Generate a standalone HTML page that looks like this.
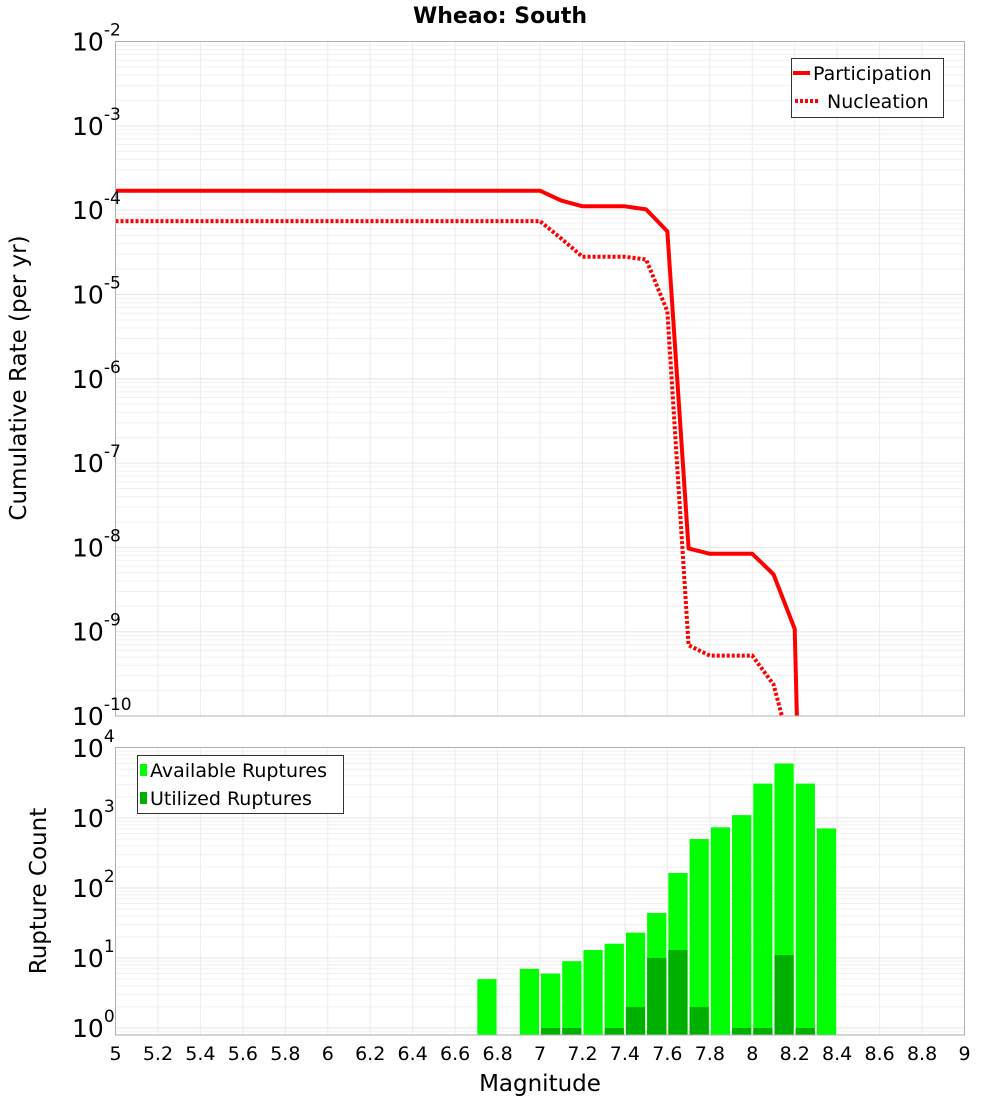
<!DOCTYPE html>
<html><head><meta charset="utf-8"><style>
html,body{margin:0;padding:0;background:#fff;width:1000px;height:1100px;overflow:hidden;}
svg{display:block;font-family:"DejaVu Sans","Liberation Sans",sans-serif;}
</style></head><body>
<svg id="chart" width="1000" height="1100" viewBox="0 0 1000 1100">
<text x="500" y="23" text-anchor="middle" font-size="22" font-weight="bold">Wheao: South</text>
<g id="top-grid"></g>
<g id="bot-grid"></g>
<g id="bars"></g>
<g id="lines"></g>
<rect x="115.5" y="41.5" width="849" height="674.5" fill="none" stroke="#b0b0b0"/>
<rect x="115.5" y="747.5" width="849" height="287.5" fill="none" stroke="#b0b0b0"/>
<g id="ticks"></g>
<text transform="translate(26,378) rotate(-90)" text-anchor="middle" font-size="23">Cumulative Rate (per yr)</text>
<text transform="translate(46,891) rotate(-90)" text-anchor="middle" font-size="23">Rupture Count</text>
<text x="540" y="1091" text-anchor="middle" font-size="23">Magnitude</text>
<g>
<rect x="791.5" y="58.5" width="152" height="59" fill="#fff" stroke="#333"/>
<line x1="793" y1="73" x2="810" y2="73" stroke="#ff0000" stroke-width="4"/>
<text x="813" y="80" font-size="19">Participation</text>
<line x1="795" y1="101" x2="820" y2="101" stroke="#ff0000" stroke-width="4" stroke-dasharray="3,2"/>
<text x="827" y="108" font-size="19">Nucleation</text>
</g>
<g>
<rect x="137.5" y="755.5" width="206" height="58" fill="#fff" stroke="#333"/>
<rect x="140" y="764" width="7" height="12" fill="#00ff00"/>
<text x="150" y="777" font-size="19">Available Ruptures</text>
<rect x="140" y="792" width="7" height="12" fill="#00b000"/>
<text x="150" y="805" font-size="19">Utilized Ruptures</text>
</g>
</svg>
<script>
const partMags = [5.0,5.1,5.2,5.3,5.4,5.5,5.6,5.7,5.8,5.9,6.0,6.1,6.2,6.3,6.4,6.5,6.6,6.7,6.8,6.9,7.0,7.1,7.2,7.3,7.4,7.5,7.6,7.7,7.8,7.9,8.0,8.1,8.2,8.3];
const partRates = [1.7e-4,1.7e-4,1.7e-4,1.7e-4,1.7e-4,1.7e-4,1.7e-4,1.7e-4,1.7e-4,1.7e-4,1.7e-4,1.7e-4,1.7e-4,1.7e-4,1.7e-4,1.7e-4,1.7e-4,1.7e-4,1.7e-4,1.7e-4,1.7e-4,1.3e-4,1.11e-4,1.11e-4,1.11e-4,1.02e-4,5.6e-5,9.7e-9,8.4e-9,8.4e-9,8.4e-9,4.8e-9,1.08e-9,1e-19];
const nuclMags = [5.0,5.1,5.2,5.3,5.4,5.5,5.6,5.7,5.8,5.9,6.0,6.1,6.2,6.3,6.4,6.5,6.6,6.7,6.8,6.9,7.0,7.1,7.2,7.3,7.4,7.5,7.6,7.7,7.8,7.9,8.0,8.1,8.2];
const nuclRates = [7.4e-5,7.4e-5,7.4e-5,7.4e-5,7.4e-5,7.4e-5,7.4e-5,7.4e-5,7.4e-5,7.4e-5,7.4e-5,7.4e-5,7.4e-5,7.4e-5,7.4e-5,7.4e-5,7.4e-5,7.4e-5,7.4e-5,7.4e-5,7.4e-5,4.6e-5,2.8e-5,2.8e-5,2.8e-5,2.6e-5,6.3e-6,6.9e-10,5.2e-10,5.2e-10,5.2e-10,2.37e-10,2.7e-11];
const barMags = [6.75,6.95,7.05,7.15,7.25,7.35,7.45,7.55,7.65,7.75,7.85,7.95,8.05,8.15,8.25,8.35];
const availCounts = [5,7,6,9,13,16,23,44,164,500,736,1100,3100,6000,3100,710];
const utilCounts = [0,0,1,1,0,1,2,10,13,2,0,1,1,11,1,0];
const xTicks = ["5","5.2","5.4","5.6","5.8","6","6.2","6.4","6.6","6.8","7","7.2","7.4","7.6","7.8","8","8.2","8.4","8.6","8.8","9"];
const topExps = [-2,-3,-4,-5,-6,-7,-8,-9,-10];
const botExps = [4,3,2,1,0];

const NS="http://www.w3.org/2000/svg";
const X0=115.5,X1=964.5,xMin=5,xMax=9;
const x=m=>X0+(m-xMin)/(xMax-xMin)*(X1-X0);
const TY0=41.5,TY1=716,tTop=-2,tBot=-10;
const yT=v=>TY0+(tTop-Math.log10(v))/(tTop-tBot)*(TY1-TY0);
const BY0=747.5,BY1=1035,bTop=4.007,bBot=-0.1;
const yB=v=>BY0+(bTop-Math.log10(v))/(bTop-bBot)*(BY1-BY0);
function mk(tag,attrs,parent){const e=document.createElementNS(NS,tag);for(const k in attrs)e.setAttribute(k,attrs[k]);parent.appendChild(e);return e;}
const tg=document.getElementById('top-grid'),bg=document.getElementById('bot-grid');
xTicks.forEach(t=>{const xx=x(parseFloat(t));
 let l=mk('line',{x1:xx,x2:xx,y1:TY0,y2:TY1,stroke:'#ebebeb'},tg);
 
 
 l=mk('line',{x1:xx,x2:xx,y1:BY0,y2:BY1,stroke:'#ebebeb'},bg);
 
 
});
for(let e=-10;e<-2;e++)for(let k=1;k<10;k++){const yy=yT(k*Math.pow(10,e));
 const l=mk('line',{x1:X0,x2:X1,y1:yy,y2:yy,stroke:k==1?'#e6e6e6':'#f0f0f0'},tg);
 
 }
for(let e=-1;e<4;e++)for(let k=1;k<10;k++){const yy=yB(k*Math.pow(10,e));if(yy<BY0||yy>BY1)continue;
 const l=mk('line',{x1:X0,x2:X1,y1:yy,y2:yy,stroke:k==1?'#e6e6e6':'#f0f0f0'},bg);
 
 }
const bgp=document.getElementById('bars');const bw=(x(0.1)-x(0))-2;
barMags.forEach((m,i)=>{
 const a=availCounts[i];if(a>0){const r=mk('rect',{x:x(m)-bw/2,y:yB(a),width:bw,height:BY1-yB(a),fill:'#00ff00'},bgp);
 
 }
 const u=utilCounts[i];if(u>0){const r=mk('rect',{x:x(m)-bw/2,y:yB(u),width:bw,height:BY1-yB(u),fill:'#00b000'},bgp);
 
 }
});
const lg=document.getElementById('lines');
const cp=mk('clipPath',{id:'tc'},lg);
mk('rect',{x:X0,y:TY0,width:X1-X0,height:TY1-TY0},cp);
let p=mk('polyline',{points:partMags.map((m,i)=>x(m)+','+yT(partRates[i])).join(' '),fill:'none',stroke:'#ff0000','stroke-width':4,'clip-path':'url(#tc)','stroke-linejoin':'round'},lg);


p=mk('polyline',{points:nuclMags.map((m,i)=>x(m)+','+yT(nuclRates[i])).join(' '),fill:'none',stroke:'#ff0000','stroke-width':4,'stroke-dasharray':'3,2','clip-path':'url(#tc)'},lg);


const tk=document.getElementById('ticks');
xTicks.forEach(t=>{const e=mk('text',{x:x(parseFloat(t)),y:1060,'text-anchor':'middle','font-size':19},tk);e.textContent=t;
 
 });
function ylab(yy,ex,name){const e=mk('text',{x:72,y:yy+9,'font-size':25},tk);
 
 
 e.textContent='10';const s=mk('tspan',{dy:-15,'font-size':17},e);s.textContent=String(ex);}
topExps.forEach(ex=>ylab(yT(Math.pow(10,ex)),ex,'top-y-tick-label'));
botExps.forEach(ex=>ylab(yB(Math.pow(10,ex)),ex,'bottom-y-tick-label'));
</script>
</body></html>
